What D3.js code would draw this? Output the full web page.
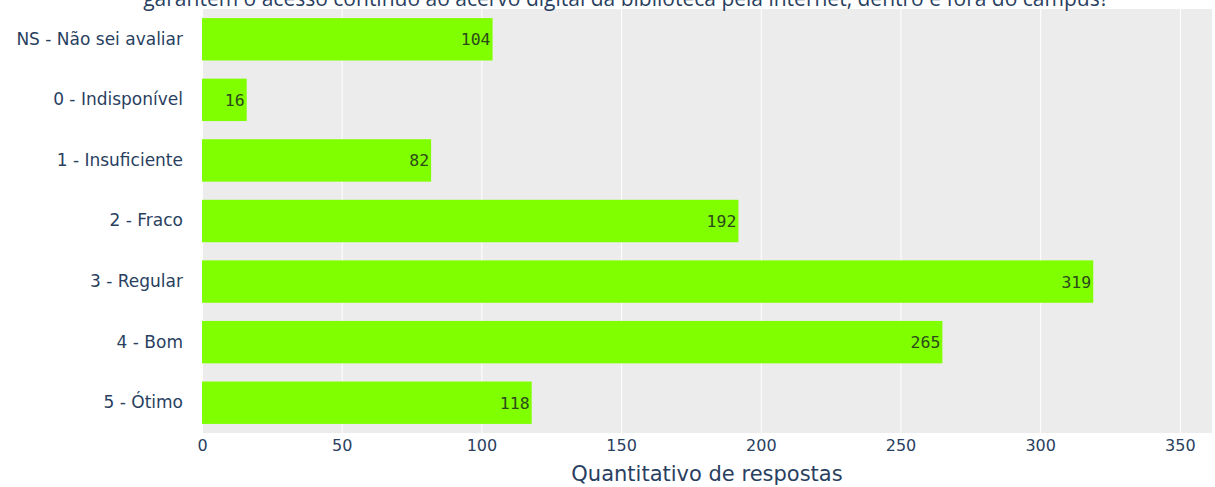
<!DOCTYPE html>
<html><head><meta charset="utf-8">
<script src="https://cdn.jsdelivr.net/npm/d3@7"></script>
<style>body{margin:0;background:#fff;}svg{display:block;}</style>
</head><body>
<svg id="c" width="1215" height="487"></svg>
<script>
const categories = ["NS - Não sei avaliar","0 - Indisponível","1 - Insuficiente","2 - Fraco","3 - Regular","4 - Bom","5 - Ótimo"];
const values = [104,16,82,192,319,265,118];
const xTicks = [0,50,100,150,200,250,300,350];
const titleText = "garantem o acesso contínuo ao acervo digital da biblioteca pela internet, dentro e fora do campus?";
const xTitle = "Quantitativo de respostas";

const svg = d3.select("#c");
const m = {left:202, right:1212, top:9, bottom:433};
const x = d3.scaleLinear().domain([0,361.5]).range([m.left,m.right]);
const y = d3.scaleBand().domain(categories).range([m.top,m.bottom]).paddingInner(0.3).paddingOuter(0.15);

svg.append("rect").attr("x",m.left).attr("y",m.top).attr("width",m.right-m.left).attr("height",m.bottom-m.top).attr("fill","#ececec");

const xg = svg.append("g").attr("transform",`translate(0,${m.bottom})`)
  .call(d3.axisBottom(x).tickValues(xTicks).tickSize(-(m.bottom-m.top)).tickPadding(7));
xg.select(".domain").remove();
xg.selectAll(".tick line").attr("stroke","#fff").attr("stroke-width",1);
xg.selectAll(".tick text").attr("fill","#2a3f5f").style("font-family","DejaVu Sans, Verdana, sans-serif").style("font-size","16px");

const yg = svg.append("g").attr("transform",`translate(${m.left},0)`)
  .call(d3.axisLeft(y).tickSize(0).tickPadding(19));
yg.select(".domain").remove();
yg.selectAll(".tick text").attr("fill","#2a3f5f").style("font-family","DejaVu Sans, Verdana, sans-serif").style("font-size","17px");

svg.selectAll(".bar").data(values).enter().append("rect")
  .attr("x",x(0)).attr("y",(d,i)=>y(categories[i]))
  .attr("width",d=>x(d)-x(0)).attr("height",y.bandwidth()).attr("fill","#7fff00");

svg.selectAll(".lbl").data(values).enter().append("text")
  .attr("x",d=>x(d)-2).attr("y",(d,i)=>y(categories[i])+y.bandwidth()/2)
  .attr("dy","0.36em").attr("text-anchor","end")
  .attr("fill","#2c4a1a").style("font-family","DejaVu Sans Mono, monospace").style("font-size","16.5px")
  .text(d=>d);

svg.append("text").attr("x",(m.left+m.right)/2).attr("y",481).attr("text-anchor","middle")
  .attr("fill","#2a3f5f").style("font-family","DejaVu Sans, Verdana, sans-serif").style("font-size","21px").text(xTitle);

svg.append("text").attr("x",626).attr("y",6).attr("text-anchor","middle")
  .attr("fill","#2a3f5f").style("font-family","Open Sans, sans-serif").style("font-size","21px").text(titleText);
</script>
</body></html>
